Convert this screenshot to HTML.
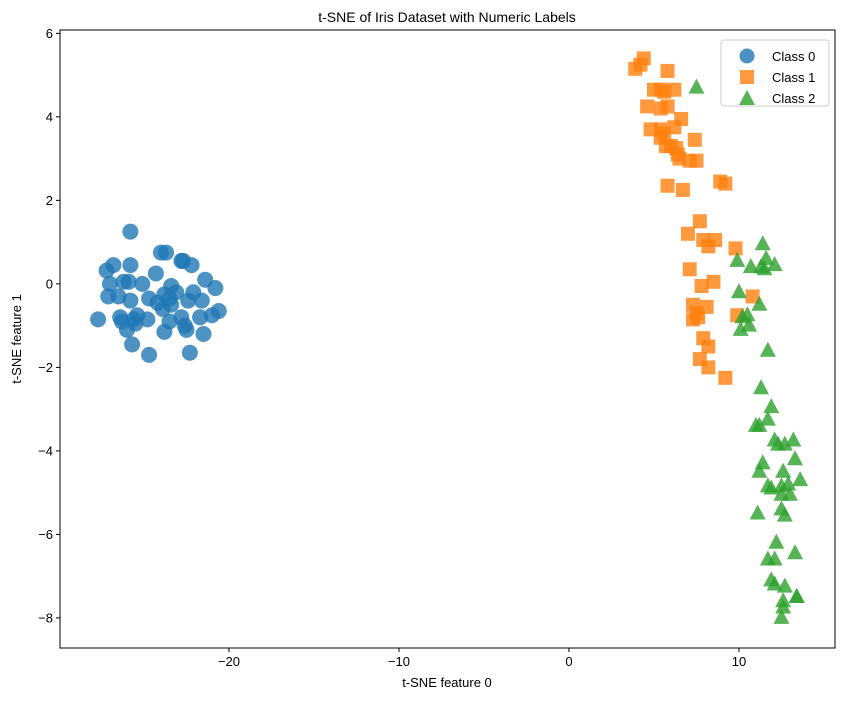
<!DOCTYPE html>
<html><head><meta charset="utf-8"><style>
body{margin:0;background:#fff;}
svg text{font-family:"Liberation Sans","DejaVu Sans",sans-serif;fill:#000;}
</style></head><body>
<svg id="chart" width="844" height="699" xmlns="http://www.w3.org/2000/svg">
<rect x="0" y="0" width="844" height="699" fill="#fff"/>
<text x="447" y="22" font-size="14" text-anchor="middle">t-SNE of Iris Dataset with Numeric Labels</text>
<g id="marks"></g>
<rect x="60" y="30" width="775" height="618" fill="none" stroke="#000" stroke-width="1"/>
<g id="xticks"></g><g id="yticks"></g>
<text x="447" y="687" font-size="13" text-anchor="middle">t-SNE feature 0</text>
<text transform="translate(21,339) rotate(-90)" font-size="13" text-anchor="middle">t-SNE feature 1</text>
<g id="legend">
<rect x="721" y="40" width="108" height="66" rx="3" fill="#fff" fill-opacity="0.8" stroke="#ccc"/>
<g><circle cx="747" cy="56" r="7.5" fill="#1f77b4" fill-opacity="0.8"/><text x="772" y="61" font-size="13">Class 0</text></g>
<g><rect x="740" y="70" width="14" height="14" fill="#ff7f0e" fill-opacity="0.8"/><text x="772" y="82" font-size="13">Class 1</text></g>
<g><polygon points="747,90 755,105 739,105" fill="#2ca02c" fill-opacity="0.8"/><text x="772" y="103" font-size="13">Class 2</text></g>
</g>
</svg>
<script>
const xTicks=[-20,-10,0,10];
const yTicks=[-8,-6,-4,-2,0,2,4,6];
const class0X=[-27.7,-27.2,-27.0,-27.1,-26.8,-26.5,-26.4,-26.3,-26.2,-26.0,-25.9,-25.8,-25.8,-25.8,-25.7,-25.6,-25.5,-25.4,-25.1,-24.8,-24.7,-24.7,-24.3,-24.2,-24.0,-23.9,-23.8,-23.8,-23.7,-23.5,-23.5,-23.4,-23.4,-23.1,-22.8,-22.8,-22.7,-22.6,-22.5,-22.4,-22.3,-22.2,-22.1,-21.7,-21.6,-21.5,-21.4,-21.0,-20.8,-20.6];
const class0Y=[-0.85,0.32,0.0,-0.3,0.45,-0.3,-0.8,-0.9,0.05,-1.1,0.05,0.45,1.25,-0.4,-1.45,-0.85,-0.95,-0.75,0.0,-0.85,-0.35,-1.7,0.25,-0.45,0.75,-0.6,-0.25,-1.15,0.75,-0.35,-0.9,-0.05,-0.5,-0.2,0.55,-0.8,0.55,-1.0,-1.1,-0.4,-1.65,0.45,-0.2,-0.8,-0.4,-1.2,0.1,-0.75,-0.1,-0.65];
const class1X=[3.9,4.2,4.4,5.8,5.0,5.4,5.6,6.2,4.6,5.4,5.8,6.6,4.8,5.4,5.6,5.4,6.2,7.4,6.0,6.3,5.7,6.5,7.1,7.5,5.8,6.7,8.9,9.2,7.7,7.0,7.9,8.2,8.6,9.8,7.1,7.8,8.5,10.8,7.3,8.1,7.5,7.3,9.9,7.9,8.2,7.7,8.2,9.2,7.6,6.4];
const class1Y=[5.15,5.25,5.4,5.1,4.65,4.65,4.6,4.65,4.25,4.2,4.25,3.95,3.7,3.7,3.6,3.5,3.75,3.45,3.3,3.25,3.3,3.0,2.95,2.95,2.35,2.25,2.45,2.4,1.5,1.2,1.05,0.9,1.05,0.85,0.35,-0.05,0.05,-0.3,-0.5,-0.55,-0.7,-0.85,-0.75,-1.3,-1.5,-1.8,-2.0,-2.25,-0.8,3.1];
const class2X=[7.5,11.4,9.9,11.6,10.7,11.3,11.5,12.1,10.0,11.2,10.2,10.1,10.6,11.7,11.3,11.9,11.7,11.0,11.2,12.1,12.3,12.7,13.2,11.4,11.2,12.6,13.3,11.7,11.9,12.5,12.9,13.6,13.0,12.5,11.1,12.5,12.7,12.2,13.3,11.7,12.1,11.9,12.1,12.7,13.4,12.6,12.6,12.5,13.4,10.5];
const class2Y=[4.7,0.95,0.55,0.6,0.4,0.4,0.35,0.45,-0.2,-0.5,-0.8,-1.1,-1.0,-1.6,-2.5,-2.95,-3.25,-3.4,-3.4,-3.75,-3.85,-3.85,-3.75,-4.3,-4.5,-4.5,-4.2,-4.85,-4.9,-4.85,-4.8,-4.7,-5.05,-5.05,-5.5,-5.4,-5.55,-6.2,-6.45,-6.6,-6.6,-7.1,-7.2,-7.25,-7.5,-7.6,-7.75,-8.0,-7.5,-0.75];
const X0=-29.94,X1=15.65,Y0=-8.72,Y1=6.08,L=60,R=835,T=30,B=648;
function sx(v){return L+(v-X0)/(X1-X0)*(R-L);}
function sy(v){return B-(v-Y0)/(Y1-Y0)*(B-T);}
const NS='http://www.w3.org/2000/svg';
function mk(tag,attrs,parent){const e=document.createElementNS(NS,tag);for(const k in attrs)e.setAttribute(k,attrs[k]);parent.appendChild(e);return e;}
const marks=document.getElementById('marks');
class0X.forEach((x,i)=>{const e=mk('circle',{cx:sx(x),cy:sy(class0Y[i]),r:8,fill:'#1f77b4','fill-opacity':0.8},marks);

});
class1X.forEach((x,i)=>{const e=mk('rect',{x:sx(x)-7,y:sy(class1Y[i])-7,width:14,height:14,fill:'#ff7f0e','fill-opacity':0.8},marks);

});
class2X.forEach((x,i)=>{const cx=sx(x),cy=sy(class2Y[i]);const e=mk('polygon',{points:`${cx},${cy-9} ${cx+8},${cy+6} ${cx-8},${cy+6}`,fill:'#2ca02c','fill-opacity':0.8},marks);

});
const xg=document.getElementById('xticks');
xTicks.forEach(t=>{const x=sx(t);mk('line',{x1:x,x2:x,y1:B,y2:B+4,stroke:'#000'},xg);
const tx=mk('text',{x:x,y:B+18,'font-size':13,'text-anchor':'middle'},xg);tx.textContent=t<0?'\u2212'+(-t):t;

});
const yg=document.getElementById('yticks');
yTicks.forEach(t=>{const y=sy(t);mk('line',{x1:L-4,x2:L,y1:y,y2:y,stroke:'#000'},yg);
const tx=mk('text',{x:L-7,y:y+4.5,'font-size':13,'text-anchor':'end'},yg);tx.textContent=t<0?'\u2212'+(-t):t;

});
</script>
</body></html>
